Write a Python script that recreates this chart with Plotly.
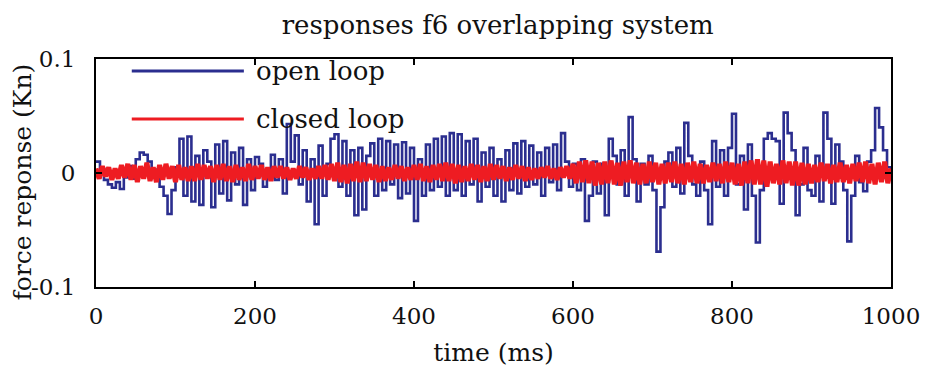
import plotly.graph_objects as go

# ---- data ----
open_loop = [
    0.010, 0.004, -0.006, -0.010, -0.013, -0.008, -0.014, -0.004, 0.006, -0.005,
    0.012, 0.018, 0.016, 0.010, 0.003, -0.005, -0.012, -0.020, -0.036, -0.015,
    0.005, 0.030, -0.020, 0.032, -0.025, 0.015, -0.028, 0.020, 0.010, -0.030,
    0.025, -0.018, 0.028, -0.024, 0.018, -0.010, 0.022, -0.028, 0.012, -0.015,
    0.014, 0.008, -0.012, 0.002, 0.016, -0.006, 0.012, -0.018, 0.043, 0.010,
    0.033, -0.010, 0.020, -0.025, 0.012, -0.045, 0.024, -0.020, 0.008, 0.030,
    0.034, -0.012, 0.028, -0.020, 0.020, -0.037, 0.022, -0.032, 0.015, 0.026,
    -0.020, 0.030, -0.015, 0.028, -0.010, 0.025, -0.022, 0.027, -0.018, 0.022,
    -0.042, 0.012, -0.020, 0.025, -0.015, 0.030, -0.012, 0.032, -0.020, 0.035,
    -0.015, 0.034, -0.020, 0.028, -0.010, 0.030, -0.025, 0.018, -0.012, 0.022,
    -0.020, 0.012, -0.025, 0.020, -0.015, 0.026, -0.018, 0.028, -0.012, 0.024,
    -0.010, 0.018, -0.020, 0.022, -0.008, 0.025, -0.015, 0.035, 0.010, -0.012,
    0.008, -0.015, 0.012, -0.042, -0.020, 0.010, -0.018, 0.008, -0.037, 0.030,
    0.015, -0.010, 0.020, -0.020, 0.049, 0.012, -0.025, 0.008, -0.010, 0.015,
    -0.015, -0.069, -0.030, 0.010, 0.018, -0.012, 0.022, -0.018, 0.044, 0.015,
    -0.010, -0.020, 0.010, -0.015, -0.045, 0.028, -0.012, 0.020, -0.020, 0.022,
    0.052, -0.010, 0.015, -0.032, 0.025, -0.020, -0.061, -0.015, 0.030, 0.035,
    0.030, 0.028, -0.027, 0.053, 0.035, 0.020, -0.037, -0.010, 0.022, -0.015,
    -0.020, 0.015, -0.025, 0.053, 0.030, -0.027, 0.025, 0.010, -0.015, -0.060,
    -0.020, 0.015, -0.008, -0.016, 0.010, 0.020, 0.057, 0.040, 0.020, 0.005,
    -0.005,
]
open_time = list(range(0, 1001, 5))

closed_loop = [
    0.004, -0.005, 0.006, -0.003, 0.005, -0.006, 0.004, -0.005, 0.007, -0.004,
    0.008, -0.006, 0.007, -0.008, 0.006, -0.005, 0.009, -0.007, 0.005, -0.008,
    0.007, -0.006, 0.008, -0.005, 0.006, -0.008, 0.007, -0.006, 0.005, -0.007,
    0.006, -0.007, 0.008, -0.006, 0.007, -0.005, 0.006, -0.008, 0.007, -0.006,
    0.008, -0.007, 0.006, -0.008, 0.007, -0.006, 0.005, -0.007, 0.008, -0.006,
    0.006, -0.005, 0.007, -0.006, 0.005, -0.007, 0.006, -0.004, 0.006, -0.005,
    0.005, -0.006, 0.004, -0.005, 0.006, -0.004, 0.005, -0.006, 0.004, -0.005,
    0.006, -0.005, 0.007, -0.006, 0.008, -0.007, 0.009, -0.008, 0.007, -0.009,
    0.008, -0.007, 0.010, -0.008, 0.009, -0.007, 0.008, -0.006, 0.007, -0.008,
    0.006, -0.007, 0.005, -0.006, 0.007, -0.005, 0.006, -0.007, 0.005, -0.006,
    0.007, -0.006, 0.008, -0.007, 0.006, -0.008, 0.007, -0.006, 0.008, -0.007,
    0.009, -0.007, 0.008, -0.009, 0.007, -0.008, 0.006, -0.007, 0.008, -0.006,
    0.007, -0.008, 0.006, -0.007, 0.008, -0.006, 0.007, -0.005, 0.006, -0.007,
    0.005, -0.006, 0.007, -0.005, 0.006, -0.007, 0.005, -0.006, 0.004, -0.005,
    0.005, -0.004, 0.006, -0.005, 0.004, -0.006, 0.005, -0.004, 0.006, -0.005,
    0.008, -0.009, 0.010, -0.008, 0.011, -0.009, 0.010, -0.011, 0.009, -0.010,
    0.010, -0.009, 0.011, -0.010, 0.009, -0.011, 0.010, -0.008, 0.011, -0.009,
    0.009, -0.010, 0.008, -0.009, 0.010, -0.008, 0.009, -0.010, 0.008, -0.009,
    0.009, -0.008, 0.010, -0.009, 0.008, -0.010, 0.009, -0.008, 0.010, -0.009,
    0.008, -0.009, 0.007, -0.008, 0.009, -0.007, 0.008, -0.009, 0.010, -0.008,
    0.009, -0.010, 0.008, -0.011, 0.010, -0.009, 0.011, -0.010, 0.012, -0.010,
    0.011, -0.012, 0.010, -0.009, 0.008, -0.010, 0.011, -0.009, 0.010, -0.011,
    0.010, -0.011, 0.009, -0.010, 0.008, -0.009, 0.007, -0.008, 0.009, -0.007,
    0.008, -0.009, 0.007, -0.008, 0.009, -0.008, 0.007, -0.009, 0.008, -0.007,
    0.009, -0.008, 0.010, -0.009, 0.008, -0.010, 0.009, -0.008, 0.010, -0.009,
    0.004,
]
closed_time = list(range(0, 1001, 4))

x_ticks = [0, 200, 400, 600, 800, 1000]
y_ticks = [-0.1, 0, 0.1]
y_tick_text = ["-0.1", "0", "0.1"]

series_names = ["open loop", "closed loop"]
BLUE = "#2b2e8f"
RED = "#ee1c22"
FONT = "DejaVu Serif"
TXT = "#111111"

fig = go.Figure()
fig.add_trace(go.Scatter(x=open_time, y=open_loop, mode="lines",
                         line=dict(color=BLUE, width=2.6, shape="hv"),
                         name=series_names[0], showlegend=False))
fig.add_trace(go.Scatter(x=closed_time, y=closed_loop, mode="lines",
                         line=dict(color=RED, width=5),
                         name=series_names[1], showlegend=False))

# manual legend (long line samples like the original)
legend_rows = [(0.947, BLUE, series_names[0]), (0.737, RED, series_names[1])]
for yy, col, txt in legend_rows:
    fig.add_shape(type="line", xref="paper", yref="paper",
                  x0=0.045, x1=0.186, y0=yy, y1=yy,
                  line=dict(color=col, width=3))
    fig.add_annotation(xref="paper", yref="paper", x=0.199, y=yy, text=txt,
                       showarrow=False, xanchor="left", yanchor="middle",
                       font=dict(family=FONT, size=26, color=TXT))

# y-axis title placed like the original (slightly overlapping the -0.1 label)
fig.add_annotation(xref="paper", yref="paper", x=-0.0926, y=0.46,
                   text="force reponse (Kn)", textangle=-90, showarrow=False,
                   xanchor="center", yanchor="middle",
                   font=dict(family=FONT, size=25, color=TXT))

axis_common = dict(showline=True, linecolor="black", linewidth=2,
                   mirror="ticks", ticks="inside", ticklen=6, tickcolor="black",
                   tickwidth=2, showgrid=False, zeroline=False,
                   tickfont=dict(family=FONT, size=23, color=TXT))

fig.update_xaxes(range=[0, 1000], tickvals=x_ticks, ticklabelstandoff=7,
                 title=dict(text="time (ms)", font=dict(family=FONT, size=25, color=TXT),
                            standoff=16),
                 **axis_common)
fig.update_yaxes(range=[-0.1, 0.1], tickvals=y_ticks, ticktext=y_tick_text,
                 ticklabelstandoff=14,
                 **axis_common)

fig.update_layout(
    width=932, height=378,
    margin=dict(l=96, r=37, t=59, b=91),
    paper_bgcolor="white", plot_bgcolor="white",
    title=dict(text="responses f6 overlapping system", x=0.534, xanchor="center",
               y=0.935, yanchor="middle",
               font=dict(family=FONT, size=26, color=TXT)),
)

fig.write_html("out.html")
